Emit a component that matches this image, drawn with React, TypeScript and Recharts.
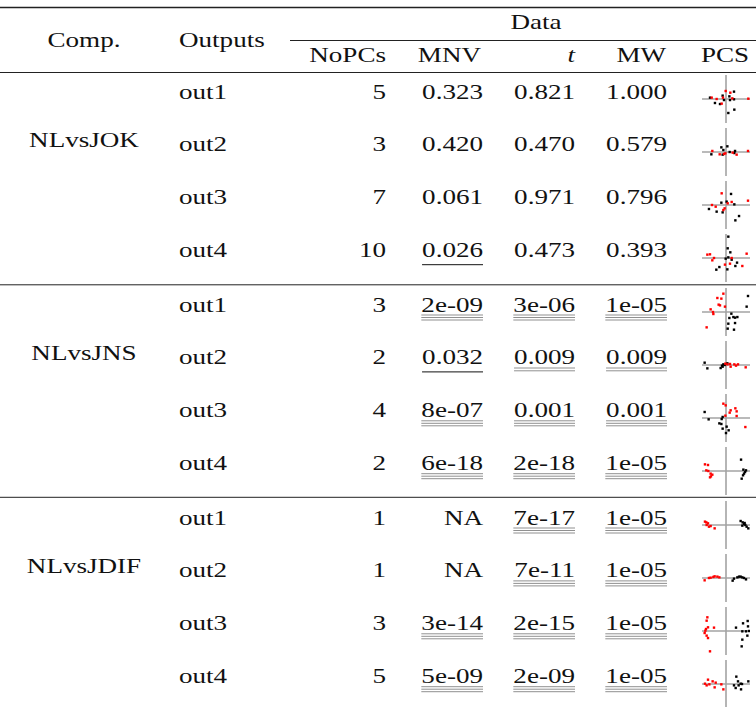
import { ScatterChart, Scatter, XAxis, YAxis, ReferenceLine } from 'recharts';

// table contents
const comparisons = ['NLvsJOK', 'NLvsJNS', 'NLvsJDIF'];
const outputs = ['out1', 'out2', 'out3', 'out4'];
const subHeaders = ['NoPCs', 'MNV', 't', 'MW', 'PCS'];
const noPCs = ['5', '3', '7', '10', '3', '2', '4', '2', '1', '1', '3', '5'];
const mnv = ['0.323', '0.420', '0.061', '0.026', '2e-09', '0.032', '8e-07', '6e-18', 'NA', 'NA', '3e-14', '5e-09'];
const tStat = ['0.821', '0.470', '0.971', '0.473', '3e-06', '0.009', '0.001', '2e-18', '7e-17', '7e-11', '2e-15', '2e-09'];
const mw = ['1.000', '0.579', '0.796', '0.393', '1e-05', '0.009', '0.001', '1e-05', '1e-05', '1e-05', '1e-05', '1e-05'];
// number of underlines (significance level)
const mnvMarks = [0, 0, 0, 1, 3, 1, 3, 3, 0, 0, 3, 3];
const tMarks = [0, 0, 0, 0, 3, 2, 3, 3, 3, 3, 3, 3];
const mwMarks = [0, 0, 0, 0, 3, 2, 3, 3, 3, 3, 3, 3];

type Pt = [number, number];

// PC scores, red = NL group, black = other group
const jokOut1Red: Pt[] = [[-0.04, 1.0], [0.54, 0.79], [-0.38, 0.17], [-1.79, 0.17], [-1.17, 0.0], [0.79, 0.08], [2.79, 0.04], [-0.54, -0.58]];
const jokOut1Black: Pt[] = [[1.0, 0.92], [-0.42, 0.42], [0.42, 0.33], [-2.0, 0.17], [-0.25, -0.13], [0.5, -0.13], [1.0, -0.04], [-1.38, -0.5], [-0.75, -0.63], [1.04, -1.33], [0.29, -1.75]];
const jokOut2Red: Pt[] = [[-1.71, 0.13], [-0.79, -0.29], [-0.25, -0.25], [-0.08, -0.17], [0.83, -0.08], [1.33, -0.33], [2.75, 0.13]];
const jokOut2Black: Pt[] = [[0.17, 0.71], [-0.58, 0.58], [-0.33, 0.25], [-1.83, -0.29], [0.46, 0.0], [1.13, 0.13], [1.04, -0.13], [-0.42, -0.33]];
const jokOut3Red: Pt[] = [[-0.54, 1.46], [0.71, 0.38], [-1.75, 0.0], [2.75, 0.54], [-1.29, -0.21], [-0.33, -0.63], [-0.17, -0.42], [0.21, 0.21]];
const jokOut3Black: Pt[] = [[0.63, 1.38], [0.08, 0.42], [-0.58, 0.29], [1.04, 0.08], [-2.13, -0.5], [-1.17, -0.83], [-0.42, -0.92], [1.63, -1.38], [1.17, -1.92]];
const jokOut4Red: Pt[] = [[-2.0, 0.46], [-2.33, 0.42], [2.58, 0.54], [-1.5, 0.0], [-1.71, -0.29], [0.71, 0.0], [-0.13, -0.83], [0.5, -0.71], [2.04, -1.0]];
const jokOut4Black: Pt[] = [[0.29, 2.67], [0.21, 1.21], [0.54, 0.71], [0.29, 0.08], [-0.04, -0.08], [0.71, -0.21], [1.38, -0.58], [1.17, -1.0], [-0.83, -1.13], [-1.21, -1.46], [0.17, -1.42]];

const jnsOut1Red: Pt[] = [[-0.33, 2.29], [-1.08, 1.75], [-0.58, 1.67], [-0.92, 0.92], [-0.75, 0.83], [-0.13, 0.67], [-1.92, 0.33], [-1.63, 0.0], [-1.58, -0.25], [-2.42, -1.92]];
const jnsOut1Black: Pt[] = [[2.75, 2.0], [2.58, 0.67], [0.67, -0.21], [0.92, -0.63], [1.13, -0.71], [1.42, -0.63], [0.42, -0.75], [1.13, -1.38], [0.29, -1.46], [0.21, -2.08], [1.0, -2.21]];
const jnsOut2Red: Pt[] = [[-0.08, 0.17], [0.5, 0.13], [0.58, -0.21], [1.04, 0.08], [1.25, -0.08], [1.5, 0.08], [2.46, -0.29], [0.17, 0.08]];
const jnsOut2Black: Pt[] = [[0.17, 0.21], [-0.33, 0.08], [-0.5, -0.08], [-0.17, 0.0], [-2.67, 0.29], [-2.33, -0.42], [-0.67, -0.38], [-0.42, -0.21]];
const jnsOut3Red: Pt[] = [[-0.33, 1.79], [-0.04, 1.58], [1.17, 1.21], [0.58, 0.96], [0.46, 0.67], [1.33, 0.83], [1.33, 0.25], [-0.08, 0.29], [2.42, -1.13]];
const jnsOut3Black: Pt[] = [[-2.67, 0.75], [-2.17, -0.17], [-0.42, 0.13], [-0.54, -0.13], [-0.83, -0.67], [-0.58, -0.75], [0.08, -1.08], [-0.42, -1.33], [0.33, -1.54], [0.0, -1.88]];
const jnsOut4Red: Pt[] = [[-2.63, 0.83], [-2.25, 0.75], [-2.46, 0.08], [-2.21, 0.0], [-1.92, -0.33], [-1.71, -0.46], [-1.88, -0.67], [-2.0, -0.79]];
const jnsOut4Black: Pt[] = [[1.88, 1.42], [2.17, 0.17], [2.5, 0.08], [2.38, -0.13], [2.25, -0.33], [2.13, -0.54], [1.96, -0.96]];

const jdifOut1Red: Pt[] = [[-2.63, 0.42], [-2.46, 0.33], [-2.25, 0.21], [-2.42, 0.0], [-2.13, -0.21], [-1.92, -0.13], [-1.42, -0.42]];
const jdifOut1Black: Pt[] = [[1.83, 0.5], [2.08, 0.33], [2.25, 0.13], [2.42, 0.0], [2.58, -0.21], [2.79, -0.42], [2.04, -0.08], [2.33, 0.25]];
const jdifOut2Red: Pt[] = [[-2.67, -0.29], [-2.13, 0.0], [-1.92, 0.04], [-1.58, 0.13], [-1.42, 0.21], [-1.08, 0.17], [-0.83, 0.08]];
const jdifOut2Black: Pt[] = [[0.83, -0.33], [1.0, -0.08], [1.42, 0.08], [1.63, 0.17], [1.83, 0.17], [2.04, 0.08], [2.25, 0.0], [2.5, -0.17]];
const jdifOut3Red: Pt[] = [[-2.33, 1.71], [-2.42, 1.29], [-2.25, 0.46], [-2.5, 0.25], [-2.58, 0.04], [-1.5, 0.42], [-2.67, -0.25], [-2.42, -0.58], [-2.25, -0.88], [-2.0, -2.54]];
const jdifOut3Black: Pt[] = [[1.25, 0.42], [2.13, 0.96], [2.71, 1.25], [2.75, 0.58], [2.04, -0.04], [2.5, -0.04], [2.88, 0.0], [2.67, -0.58], [2.04, -1.08], [1.96, -1.92]];
const jdifOut4Red: Pt[] = [[-2.25, 0.54], [-1.67, 0.33], [-1.29, 0.17], [-2.63, 0.04], [-2.42, -0.17], [-2.08, -0.04], [-1.42, -0.42], [-0.58, -0.04], [-0.33, -0.67]];
const jdifOut4Black: Pt[] = [[1.29, 0.92], [1.5, 0.33], [1.83, 0.04], [1.0, -0.17], [1.58, -0.17], [2.0, 0.0], [1.21, -0.5], [1.88, -0.67], [2.79, 0.33]];

const pcsRed = [jokOut1Red, jokOut2Red, jokOut3Red, jokOut4Red, jnsOut1Red, jnsOut2Red, jnsOut3Red, jnsOut4Red, jdifOut1Red, jdifOut2Red, jdifOut3Red, jdifOut4Red];
const pcsBlack = [jokOut1Black, jokOut2Black, jokOut3Black, jokOut4Black, jnsOut1Black, jnsOut2Black, jnsOut3Black, jnsOut4Black, jdifOut1Black, jdifOut2Black, jdifOut3Black, jdifOut4Black];

const FONT = '"Liberation Serif", "Times New Roman", serif';
const FS = 21.5;
const SX = 1.26;

// rough glyph widths (em) for underline lengths
const charW = (c: string) => (c === '.' ? 0.25 : c === 'e' ? 0.444 : c === '-' ? 0.333 : 0.5);
const textWidth = (s: string) => s.split('').reduce((a, c) => a + charW(c), 0) * FS * SX;

const rowCenter = (i: number) => 99 + Math.floor(i / 4) * 213 + (i % 4) * 52.9;

function Txt({ x, y, anchor = 'start', italic = false, children }: { x: number; y: number; anchor?: 'start' | 'middle' | 'end'; italic?: boolean; children: any }) {
  return (
    <g transform={`translate(${x},${y}) scale(${SX},1)`}>
      <text textAnchor={anchor} fontFamily={FONT} fontSize={FS} fontStyle={italic ? 'italic' : 'normal'} fill="#111">
        {children}
      </text>
    </g>
  );
}

function Cell({ right, y, value, marks }: { right: number; y: number; value: string; marks: number }) {
  const w = textWidth(value);
  const offs = marks === 1 ? [7.5] : marks === 2 ? [3.6, 6.4] : marks === 3 ? [3.5, 6.0, 8.5] : [];
  return (
    <g>
      <Txt x={right} y={y} anchor="end">{value}</Txt>
      {offs.map((o) => (
        <line key={o} x1={right - w} x2={right} y1={y + o} y2={y + o} stroke={marks === 1 ? '#111' : '#444'} strokeWidth={marks === 1 ? 1 : 0.6} />
      ))}
    </g>
  );
}

const square = (props: any) => (
  <rect x={props.cx - 1.2} y={props.cy - 1.2} width={2.4} height={2.4} fill={props.fill} />
);

function MiniPcs({ red, black, top }: { red: Pt[]; black: Pt[]; top: number }) {
  const redData = red.map(([x, y]) => ({ x, y }));
  const blackData = black.map(([x, y]) => ({ x, y }));
  return (
    <div style={{ position: 'absolute', left: 701.5, top, width: 48, height: 48 }}>
      <ScatterChart width={48} height={48} margin={{ top: 0, right: 0, bottom: 0, left: 0 }}>
        <XAxis type="number" dataKey="x" domain={[-3, 3]} hide />
        <YAxis type="number" dataKey="y" domain={[-3, 3]} hide />
        <ReferenceLine x={0} stroke="#a3a3a3" strokeWidth={1.6} />
        <ReferenceLine y={0} stroke="#a3a3a3" strokeWidth={1.6} />
        <Scatter data={blackData} fill="#000" shape={square} isAnimationActive={false} />
        <Scatter data={redData} fill="#ff0000" shape={square} isAnimationActive={false} />
      </ScatterChart>
    </div>
  );
}

export default function App() {
  const rows = noPCs.map((_, i) => i);
  return (
    <div style={{ position: 'absolute', left: 0, top: 0, width: 756, height: 707, background: '#fff', overflow: 'hidden' }}>
      <svg width={756} height={707} style={{ position: 'absolute', left: 0, top: 0 }}>
        <line x1={0} x2={756} y1={7.5} y2={7.5} stroke="#222" strokeWidth={1.5} />
        <Txt x={536} y={29} anchor="middle">Data</Txt>
        <line x1={290} x2={756} y1={40.5} y2={40.5} stroke="#222" strokeWidth={1} />
        <Txt x={84} y={47} anchor="middle">Comp.</Txt>
        <Txt x={179} y={47}>Outputs</Txt>
        <Txt x={386} y={62} anchor="end">{subHeaders[0]}</Txt>
        <Txt x={481} y={62} anchor="end">{subHeaders[1]}</Txt>
        <Txt x={575} y={62} anchor="end" italic>{subHeaders[2]}</Txt>
        <Txt x={666} y={62} anchor="end">{subHeaders[3]}</Txt>
        <Txt x={725} y={62} anchor="middle">{subHeaders[4]}</Txt>
        <line x1={0} x2={756} y1={72.5} y2={72.5} stroke="#222" strokeWidth={1} />
        <line x1={0} x2={756} y1={284.8} y2={284.8} stroke="#222" strokeWidth={1} />
        <line x1={0} x2={756} y1={497.3} y2={497.3} stroke="#222" strokeWidth={1} />
        {comparisons.map((c, g) => (
          <Txt key={c} x={84} y={rowCenter(g * 4 + 1) - 5} anchor="middle">{c}</Txt>
        ))}
        {rows.map((i) => {
          const y = rowCenter(i) - 0.5;
          return (
            <g key={i}>
              <Txt x={179} y={y}>{outputs[i % 4]}</Txt>
              <Txt x={386} y={y} anchor="end">{noPCs[i]}</Txt>
              <Cell right={483} y={y} value={mnv[i]} marks={mnvMarks[i]} />
              <Cell right={575} y={y} value={tStat[i]} marks={tMarks[i]} />
              <Cell right={667} y={y} value={mw[i]} marks={mwMarks[i]} />
            </g>
          );
        })}
      </svg>
      {rows.map((i) => (
        <MiniPcs key={i} red={pcsRed[i]} black={pcsBlack[i]} top={rowCenter(i) - 24} />
      ))}
    </div>
  );
}
